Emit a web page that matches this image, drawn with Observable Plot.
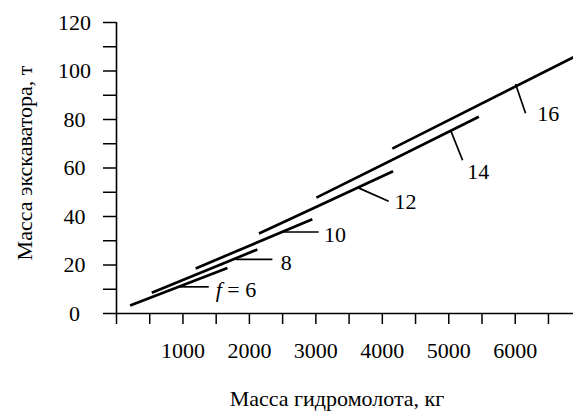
<!DOCTYPE html>
<html>
<head>
<meta charset="utf-8">
<script src="https://cdn.jsdelivr.net/npm/d3@7"></script>
<script src="https://cdn.jsdelivr.net/npm/@observablehq/plot@0.6"></script>
<style>
  body { margin: 0; background: #fff; }
</style>
</head>
<body>
<div id="chart"></div>
<script>
// Rock strength coefficient f for each segment
const fValues = [6, 8, 10, 12, 14, 16];
// Segment endpoints: hammer mass (kg) -> excavator mass (t)
const segX1 = [205, 531, 1192, 2144, 3008, 4150];
const segY1 = [3.3, 8.6, 18.6, 33.0, 47.8, 68.0];
const segX2 = [1669, 2120, 2947, 4162, 5453, 6877];
const segY2 = [18.8, 26.4, 38.9, 58.7, 81.1, 105.7];
// Leader lines from each segment to its label
const leadX1 = [917, 1794, 2471, 3624, 5027, 6005];
const leadY1 = [11.0, 22.3, 33.6, 52.0, 75.6, 94.6];
const leadX2 = [1388, 2346, 3042, 4095, 5208, 6155];
const leadY2 = [11.0, 22.3, 33.6, 46.3, 63.2, 82.6];
// Labels
const labels = ["f = 6", "8", "10", "12", "14", "16"];
const labelX = [1493, 2471, 3122, 4185, 5278, 6331];
const labelY = [9.6, 20.7, 32.3, 45.9, 58.2, 82.4];
// Ticks
const xTicks = [0, 500, 1000, 1500, 2000, 2500, 3000, 3500, 4000, 4500, 5000, 5500, 6000, 6500];
const xTickLabels = [1000, 2000, 3000, 4000, 5000, 6000];
const yTicks = [0, 10, 20, 30, 40, 50, 60, 70, 80, 90, 100, 110, 120];
const yTickLabels = [0, 20, 40, 60, 80, 100, 120];
const xTitle = "Масса гидромолота, кг";
const yTitle = "Масса экскаватора, т";

const chart = Plot.plot({
  width: 573,
  height: 412,
  marginLeft: 116,
  marginRight: 0,
  marginTop: 22,
  marginBottom: 99,
  style: { fontFamily: "'Liberation Serif', 'DejaVu Serif', serif", fontSize: "22px", color: "#000", background: "#fff" },
  x: { domain: [0, 6877] },
  y: { domain: [0, 120] },
  marks: [
    Plot.ruleX([0], { stroke: "#000", strokeWidth: 1.6 }),
    Plot.ruleY([0], { stroke: "#000", strokeWidth: 1.6 }),
    Plot.axisX({
      ticks: xTicks, tickSize: 11, tickPadding: 18, strokeWidth: 1.5,
      tickFormat: d => xTickLabels.includes(d) ? String(d) : "",
      label: null, fontSize: 22
    }),
    Plot.axisY({
      ticks: yTicks, tickSize: 13, tickPadding: 29, strokeWidth: 1.5, textAnchor: "middle",
      tickFormat: d => yTickLabels.includes(d) ? String(d) : "",
      label: null, fontSize: 22
    }),
    Plot.link(fValues, { x1: segX1, y1: segY1, x2: segX2, y2: segY2, stroke: "#000", strokeWidth: 2.7 }),
    Plot.link(fValues, { x1: leadX1, y1: leadY1, x2: leadX2, y2: leadY2, stroke: "#000", strokeWidth: 1.7 }),
    Plot.text(fValues, { x: labelX, y: labelY, text: labels, textAnchor: "start", fontSize: 22, fill: "#000" }),
    Plot.text([xTitle], { frameAnchor: "bottom", text: d => d, textAnchor: "middle", lineAnchor: "middle", dy: 85, dx: -8, fontSize: 22, fill: "#000" }),
    Plot.text([yTitle], { frameAnchor: "left", text: d => d, textAnchor: "middle", lineAnchor: "middle", rotate: -90, dx: -92, dy: -5, fontSize: 22, fill: "#000" })
  ]
});

// italic "f" in the first label
const ns = "http://www.w3.org/2000/svg";
chart.querySelectorAll("text").forEach(t => {
  if (t.textContent === "f = 6") {
    t.textContent = "";
    const a = document.createElementNS(ns, "tspan");
    a.setAttribute("font-style", "italic");
    a.textContent = "f";
    t.appendChild(a);
    t.appendChild(document.createTextNode(" = 6"));
  }
});

document.getElementById("chart").appendChild(chart);
</script>
</body>
</html>
